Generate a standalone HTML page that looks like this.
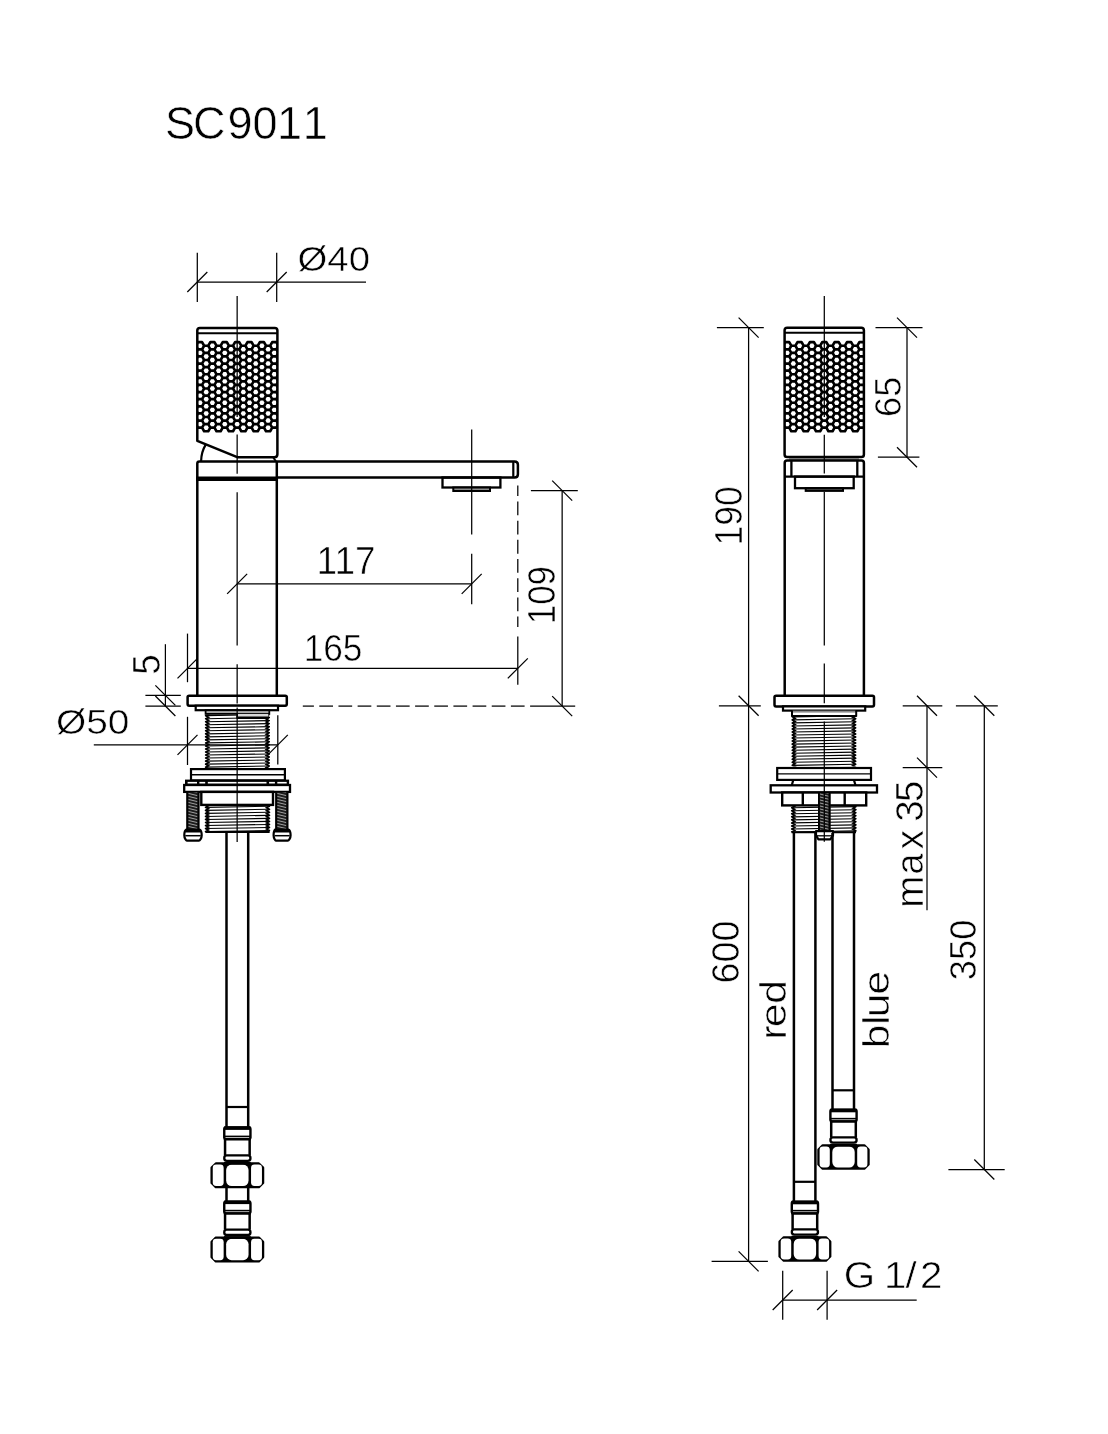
<!DOCTYPE html>
<html lang="en">
<head>
<meta charset="utf-8">
<title>SC9011</title>
<style>
html,body{margin:0;padding:0;background:#fff;}
body{width:1108px;height:1434px;overflow:hidden;font-family:'Liberation Sans', Arial, sans-serif;}
svg{display:block;will-change:transform;}
</style>
</head>
<body>
<svg width="1108" height="1434" viewBox="0 0 1108 1434">
<rect width="1108" height="1434" fill="#fff"/>
<g id="left-view">
<clipPath id="kc1"><rect x="197.3" y="330" width="80.1" height="120"/></clipPath>
<g clip-path="url(#kc1)">
<path d="M195.89,345.75 L197.95,342.19 L202.07,342.19 L204.13,345.75 L202.07,349.31 L197.95,349.31Z M195.89,352.88 L197.95,349.31 L202.07,349.31 L204.13,352.88 L202.07,356.44 L197.95,356.44Z M195.89,360 L197.95,356.44 L202.07,356.44 L204.13,360 L202.07,363.56 L197.95,363.56Z M195.89,367.12 L197.95,363.56 L202.07,363.56 L204.13,367.12 L202.07,370.69 L197.95,370.69Z M195.89,374.25 L197.95,370.69 L202.07,370.69 L204.13,374.25 L202.07,377.81 L197.95,377.81Z M195.89,381.38 L197.95,377.81 L202.07,377.81 L204.13,381.38 L202.07,384.94 L197.95,384.94Z M195.89,388.5 L197.95,384.94 L202.07,384.94 L204.13,388.5 L202.07,392.06 L197.95,392.06Z M195.89,395.62 L197.95,392.06 L202.07,392.06 L204.13,395.62 L202.07,399.19 L197.95,399.19Z M195.89,402.75 L197.95,399.19 L202.07,399.19 L204.13,402.75 L202.07,406.31 L197.95,406.31Z M195.89,409.88 L197.95,406.31 L202.07,406.31 L204.13,409.88 L202.07,413.44 L197.95,413.44Z M195.89,417 L197.95,413.44 L202.07,413.44 L204.13,417 L202.07,420.56 L197.95,420.56Z M195.89,424.12 L197.95,420.56 L202.07,420.56 L204.13,424.12 L202.07,427.69 L197.95,427.69Z M202.08,349.3 L204.14,345.74 L208.26,345.74 L210.32,349.3 L208.26,352.86 L204.14,352.86Z M202.08,356.43 L204.14,352.86 L208.26,352.86 L210.32,356.43 L208.26,359.99 L204.14,359.99Z M202.08,363.55 L204.14,359.99 L208.26,359.99 L210.32,363.55 L208.26,367.11 L204.14,367.11Z M202.08,370.68 L204.14,367.11 L208.26,367.11 L210.32,370.68 L208.26,374.24 L204.14,374.24Z M202.08,377.8 L204.14,374.24 L208.26,374.24 L210.32,377.8 L208.26,381.36 L204.14,381.36Z M202.08,384.93 L204.14,381.36 L208.26,381.36 L210.32,384.93 L208.26,388.49 L204.14,388.49Z M202.08,392.05 L204.14,388.49 L208.26,388.49 L210.32,392.05 L208.26,395.61 L204.14,395.61Z M202.08,399.18 L204.14,395.61 L208.26,395.61 L210.32,399.18 L208.26,402.74 L204.14,402.74Z M202.08,406.3 L204.14,402.74 L208.26,402.74 L210.32,406.3 L208.26,409.86 L204.14,409.86Z M202.08,413.43 L204.14,409.86 L208.26,409.86 L210.32,413.43 L208.26,416.99 L204.14,416.99Z M202.08,420.55 L204.14,416.99 L208.26,416.99 L210.32,420.55 L208.26,424.11 L204.14,424.11Z M202.08,427.68 L204.14,424.11 L208.26,424.11 L210.32,427.68 L208.26,431.24 L204.14,431.24Z M208.27,345.75 L210.33,342.19 L214.45,342.19 L216.51,345.75 L214.45,349.31 L210.33,349.31Z M208.27,352.88 L210.33,349.31 L214.45,349.31 L216.51,352.88 L214.45,356.44 L210.33,356.44Z M208.27,360 L210.33,356.44 L214.45,356.44 L216.51,360 L214.45,363.56 L210.33,363.56Z M208.27,367.12 L210.33,363.56 L214.45,363.56 L216.51,367.12 L214.45,370.69 L210.33,370.69Z M208.27,374.25 L210.33,370.69 L214.45,370.69 L216.51,374.25 L214.45,377.81 L210.33,377.81Z M208.27,381.38 L210.33,377.81 L214.45,377.81 L216.51,381.38 L214.45,384.94 L210.33,384.94Z M208.27,388.5 L210.33,384.94 L214.45,384.94 L216.51,388.5 L214.45,392.06 L210.33,392.06Z M208.27,395.62 L210.33,392.06 L214.45,392.06 L216.51,395.62 L214.45,399.19 L210.33,399.19Z M208.27,402.75 L210.33,399.19 L214.45,399.19 L216.51,402.75 L214.45,406.31 L210.33,406.31Z M208.27,409.88 L210.33,406.31 L214.45,406.31 L216.51,409.88 L214.45,413.44 L210.33,413.44Z M208.27,417 L210.33,413.44 L214.45,413.44 L216.51,417 L214.45,420.56 L210.33,420.56Z M208.27,424.12 L210.33,420.56 L214.45,420.56 L216.51,424.12 L214.45,427.69 L210.33,427.69Z M214.46,349.3 L216.52,345.74 L220.64,345.74 L222.7,349.3 L220.64,352.86 L216.52,352.86Z M214.46,356.43 L216.52,352.86 L220.64,352.86 L222.7,356.43 L220.64,359.99 L216.52,359.99Z M214.46,363.55 L216.52,359.99 L220.64,359.99 L222.7,363.55 L220.64,367.11 L216.52,367.11Z M214.46,370.68 L216.52,367.11 L220.64,367.11 L222.7,370.68 L220.64,374.24 L216.52,374.24Z M214.46,377.8 L216.52,374.24 L220.64,374.24 L222.7,377.8 L220.64,381.36 L216.52,381.36Z M214.46,384.93 L216.52,381.36 L220.64,381.36 L222.7,384.93 L220.64,388.49 L216.52,388.49Z M214.46,392.05 L216.52,388.49 L220.64,388.49 L222.7,392.05 L220.64,395.61 L216.52,395.61Z M214.46,399.18 L216.52,395.61 L220.64,395.61 L222.7,399.18 L220.64,402.74 L216.52,402.74Z M214.46,406.3 L216.52,402.74 L220.64,402.74 L222.7,406.3 L220.64,409.86 L216.52,409.86Z M214.46,413.43 L216.52,409.86 L220.64,409.86 L222.7,413.43 L220.64,416.99 L216.52,416.99Z M214.46,420.55 L216.52,416.99 L220.64,416.99 L222.7,420.55 L220.64,424.11 L216.52,424.11Z M214.46,427.68 L216.52,424.11 L220.64,424.11 L222.7,427.68 L220.64,431.24 L216.52,431.24Z M220.65,345.75 L222.71,342.19 L226.83,342.19 L228.89,345.75 L226.83,349.31 L222.71,349.31Z M220.65,352.88 L222.71,349.31 L226.83,349.31 L228.89,352.88 L226.83,356.44 L222.71,356.44Z M220.65,360 L222.71,356.44 L226.83,356.44 L228.89,360 L226.83,363.56 L222.71,363.56Z M220.65,367.12 L222.71,363.56 L226.83,363.56 L228.89,367.12 L226.83,370.69 L222.71,370.69Z M220.65,374.25 L222.71,370.69 L226.83,370.69 L228.89,374.25 L226.83,377.81 L222.71,377.81Z M220.65,381.38 L222.71,377.81 L226.83,377.81 L228.89,381.38 L226.83,384.94 L222.71,384.94Z M220.65,388.5 L222.71,384.94 L226.83,384.94 L228.89,388.5 L226.83,392.06 L222.71,392.06Z M220.65,395.62 L222.71,392.06 L226.83,392.06 L228.89,395.62 L226.83,399.19 L222.71,399.19Z M220.65,402.75 L222.71,399.19 L226.83,399.19 L228.89,402.75 L226.83,406.31 L222.71,406.31Z M220.65,409.88 L222.71,406.31 L226.83,406.31 L228.89,409.88 L226.83,413.44 L222.71,413.44Z M220.65,417 L222.71,413.44 L226.83,413.44 L228.89,417 L226.83,420.56 L222.71,420.56Z M220.65,424.12 L222.71,420.56 L226.83,420.56 L228.89,424.12 L226.83,427.69 L222.71,427.69Z M226.84,349.3 L228.9,345.74 L233.02,345.74 L235.08,349.3 L233.02,352.86 L228.9,352.86Z M226.84,356.43 L228.9,352.86 L233.02,352.86 L235.08,356.43 L233.02,359.99 L228.9,359.99Z M226.84,363.55 L228.9,359.99 L233.02,359.99 L235.08,363.55 L233.02,367.11 L228.9,367.11Z M226.84,370.68 L228.9,367.11 L233.02,367.11 L235.08,370.68 L233.02,374.24 L228.9,374.24Z M226.84,377.8 L228.9,374.24 L233.02,374.24 L235.08,377.8 L233.02,381.36 L228.9,381.36Z M226.84,384.93 L228.9,381.36 L233.02,381.36 L235.08,384.93 L233.02,388.49 L228.9,388.49Z M226.84,392.05 L228.9,388.49 L233.02,388.49 L235.08,392.05 L233.02,395.61 L228.9,395.61Z M226.84,399.18 L228.9,395.61 L233.02,395.61 L235.08,399.18 L233.02,402.74 L228.9,402.74Z M226.84,406.3 L228.9,402.74 L233.02,402.74 L235.08,406.3 L233.02,409.86 L228.9,409.86Z M226.84,413.43 L228.9,409.86 L233.02,409.86 L235.08,413.43 L233.02,416.99 L228.9,416.99Z M226.84,420.55 L228.9,416.99 L233.02,416.99 L235.08,420.55 L233.02,424.11 L228.9,424.11Z M226.84,427.68 L228.9,424.11 L233.02,424.11 L235.08,427.68 L233.02,431.24 L228.9,431.24Z M233.03,345.75 L235.09,342.19 L239.21,342.19 L241.27,345.75 L239.21,349.31 L235.09,349.31Z M233.03,352.88 L235.09,349.31 L239.21,349.31 L241.27,352.88 L239.21,356.44 L235.09,356.44Z M233.03,360 L235.09,356.44 L239.21,356.44 L241.27,360 L239.21,363.56 L235.09,363.56Z M233.03,367.12 L235.09,363.56 L239.21,363.56 L241.27,367.12 L239.21,370.69 L235.09,370.69Z M233.03,374.25 L235.09,370.69 L239.21,370.69 L241.27,374.25 L239.21,377.81 L235.09,377.81Z M233.03,381.38 L235.09,377.81 L239.21,377.81 L241.27,381.38 L239.21,384.94 L235.09,384.94Z M233.03,388.5 L235.09,384.94 L239.21,384.94 L241.27,388.5 L239.21,392.06 L235.09,392.06Z M233.03,395.62 L235.09,392.06 L239.21,392.06 L241.27,395.62 L239.21,399.19 L235.09,399.19Z M233.03,402.75 L235.09,399.19 L239.21,399.19 L241.27,402.75 L239.21,406.31 L235.09,406.31Z M233.03,409.88 L235.09,406.31 L239.21,406.31 L241.27,409.88 L239.21,413.44 L235.09,413.44Z M233.03,417 L235.09,413.44 L239.21,413.44 L241.27,417 L239.21,420.56 L235.09,420.56Z M233.03,424.12 L235.09,420.56 L239.21,420.56 L241.27,424.12 L239.21,427.69 L235.09,427.69Z M239.22,349.3 L241.28,345.74 L245.4,345.74 L247.46,349.3 L245.4,352.86 L241.28,352.86Z M239.22,356.43 L241.28,352.86 L245.4,352.86 L247.46,356.43 L245.4,359.99 L241.28,359.99Z M239.22,363.55 L241.28,359.99 L245.4,359.99 L247.46,363.55 L245.4,367.11 L241.28,367.11Z M239.22,370.68 L241.28,367.11 L245.4,367.11 L247.46,370.68 L245.4,374.24 L241.28,374.24Z M239.22,377.8 L241.28,374.24 L245.4,374.24 L247.46,377.8 L245.4,381.36 L241.28,381.36Z M239.22,384.93 L241.28,381.36 L245.4,381.36 L247.46,384.93 L245.4,388.49 L241.28,388.49Z M239.22,392.05 L241.28,388.49 L245.4,388.49 L247.46,392.05 L245.4,395.61 L241.28,395.61Z M239.22,399.18 L241.28,395.61 L245.4,395.61 L247.46,399.18 L245.4,402.74 L241.28,402.74Z M239.22,406.3 L241.28,402.74 L245.4,402.74 L247.46,406.3 L245.4,409.86 L241.28,409.86Z M239.22,413.43 L241.28,409.86 L245.4,409.86 L247.46,413.43 L245.4,416.99 L241.28,416.99Z M239.22,420.55 L241.28,416.99 L245.4,416.99 L247.46,420.55 L245.4,424.11 L241.28,424.11Z M239.22,427.68 L241.28,424.11 L245.4,424.11 L247.46,427.68 L245.4,431.24 L241.28,431.24Z M245.41,345.75 L247.47,342.19 L251.59,342.19 L253.65,345.75 L251.59,349.31 L247.47,349.31Z M245.41,352.88 L247.47,349.31 L251.59,349.31 L253.65,352.88 L251.59,356.44 L247.47,356.44Z M245.41,360 L247.47,356.44 L251.59,356.44 L253.65,360 L251.59,363.56 L247.47,363.56Z M245.41,367.12 L247.47,363.56 L251.59,363.56 L253.65,367.12 L251.59,370.69 L247.47,370.69Z M245.41,374.25 L247.47,370.69 L251.59,370.69 L253.65,374.25 L251.59,377.81 L247.47,377.81Z M245.41,381.38 L247.47,377.81 L251.59,377.81 L253.65,381.38 L251.59,384.94 L247.47,384.94Z M245.41,388.5 L247.47,384.94 L251.59,384.94 L253.65,388.5 L251.59,392.06 L247.47,392.06Z M245.41,395.62 L247.47,392.06 L251.59,392.06 L253.65,395.62 L251.59,399.19 L247.47,399.19Z M245.41,402.75 L247.47,399.19 L251.59,399.19 L253.65,402.75 L251.59,406.31 L247.47,406.31Z M245.41,409.88 L247.47,406.31 L251.59,406.31 L253.65,409.88 L251.59,413.44 L247.47,413.44Z M245.41,417 L247.47,413.44 L251.59,413.44 L253.65,417 L251.59,420.56 L247.47,420.56Z M245.41,424.12 L247.47,420.56 L251.59,420.56 L253.65,424.12 L251.59,427.69 L247.47,427.69Z M251.6,349.3 L253.66,345.74 L257.78,345.74 L259.84,349.3 L257.78,352.86 L253.66,352.86Z M251.6,356.43 L253.66,352.86 L257.78,352.86 L259.84,356.43 L257.78,359.99 L253.66,359.99Z M251.6,363.55 L253.66,359.99 L257.78,359.99 L259.84,363.55 L257.78,367.11 L253.66,367.11Z M251.6,370.68 L253.66,367.11 L257.78,367.11 L259.84,370.68 L257.78,374.24 L253.66,374.24Z M251.6,377.8 L253.66,374.24 L257.78,374.24 L259.84,377.8 L257.78,381.36 L253.66,381.36Z M251.6,384.93 L253.66,381.36 L257.78,381.36 L259.84,384.93 L257.78,388.49 L253.66,388.49Z M251.6,392.05 L253.66,388.49 L257.78,388.49 L259.84,392.05 L257.78,395.61 L253.66,395.61Z M251.6,399.18 L253.66,395.61 L257.78,395.61 L259.84,399.18 L257.78,402.74 L253.66,402.74Z M251.6,406.3 L253.66,402.74 L257.78,402.74 L259.84,406.3 L257.78,409.86 L253.66,409.86Z M251.6,413.43 L253.66,409.86 L257.78,409.86 L259.84,413.43 L257.78,416.99 L253.66,416.99Z M251.6,420.55 L253.66,416.99 L257.78,416.99 L259.84,420.55 L257.78,424.11 L253.66,424.11Z M251.6,427.68 L253.66,424.11 L257.78,424.11 L259.84,427.68 L257.78,431.24 L253.66,431.24Z M257.79,345.75 L259.85,342.19 L263.97,342.19 L266.03,345.75 L263.97,349.31 L259.85,349.31Z M257.79,352.88 L259.85,349.31 L263.97,349.31 L266.03,352.88 L263.97,356.44 L259.85,356.44Z M257.79,360 L259.85,356.44 L263.97,356.44 L266.03,360 L263.97,363.56 L259.85,363.56Z M257.79,367.12 L259.85,363.56 L263.97,363.56 L266.03,367.12 L263.97,370.69 L259.85,370.69Z M257.79,374.25 L259.85,370.69 L263.97,370.69 L266.03,374.25 L263.97,377.81 L259.85,377.81Z M257.79,381.38 L259.85,377.81 L263.97,377.81 L266.03,381.38 L263.97,384.94 L259.85,384.94Z M257.79,388.5 L259.85,384.94 L263.97,384.94 L266.03,388.5 L263.97,392.06 L259.85,392.06Z M257.79,395.62 L259.85,392.06 L263.97,392.06 L266.03,395.62 L263.97,399.19 L259.85,399.19Z M257.79,402.75 L259.85,399.19 L263.97,399.19 L266.03,402.75 L263.97,406.31 L259.85,406.31Z M257.79,409.88 L259.85,406.31 L263.97,406.31 L266.03,409.88 L263.97,413.44 L259.85,413.44Z M257.79,417 L259.85,413.44 L263.97,413.44 L266.03,417 L263.97,420.56 L259.85,420.56Z M257.79,424.12 L259.85,420.56 L263.97,420.56 L266.03,424.12 L263.97,427.69 L259.85,427.69Z M263.98,349.3 L266.04,345.74 L270.16,345.74 L272.22,349.3 L270.16,352.86 L266.04,352.86Z M263.98,356.43 L266.04,352.86 L270.16,352.86 L272.22,356.43 L270.16,359.99 L266.04,359.99Z M263.98,363.55 L266.04,359.99 L270.16,359.99 L272.22,363.55 L270.16,367.11 L266.04,367.11Z M263.98,370.68 L266.04,367.11 L270.16,367.11 L272.22,370.68 L270.16,374.24 L266.04,374.24Z M263.98,377.8 L266.04,374.24 L270.16,374.24 L272.22,377.8 L270.16,381.36 L266.04,381.36Z M263.98,384.93 L266.04,381.36 L270.16,381.36 L272.22,384.93 L270.16,388.49 L266.04,388.49Z M263.98,392.05 L266.04,388.49 L270.16,388.49 L272.22,392.05 L270.16,395.61 L266.04,395.61Z M263.98,399.18 L266.04,395.61 L270.16,395.61 L272.22,399.18 L270.16,402.74 L266.04,402.74Z M263.98,406.3 L266.04,402.74 L270.16,402.74 L272.22,406.3 L270.16,409.86 L266.04,409.86Z M263.98,413.43 L266.04,409.86 L270.16,409.86 L272.22,413.43 L270.16,416.99 L266.04,416.99Z M263.98,420.55 L266.04,416.99 L270.16,416.99 L272.22,420.55 L270.16,424.11 L266.04,424.11Z M263.98,427.68 L266.04,424.11 L270.16,424.11 L272.22,427.68 L270.16,431.24 L266.04,431.24Z M270.17,345.75 L272.23,342.19 L276.35,342.19 L278.41,345.75 L276.35,349.31 L272.23,349.31Z M270.17,352.88 L272.23,349.31 L276.35,349.31 L278.41,352.88 L276.35,356.44 L272.23,356.44Z M270.17,360 L272.23,356.44 L276.35,356.44 L278.41,360 L276.35,363.56 L272.23,363.56Z M270.17,367.12 L272.23,363.56 L276.35,363.56 L278.41,367.12 L276.35,370.69 L272.23,370.69Z M270.17,374.25 L272.23,370.69 L276.35,370.69 L278.41,374.25 L276.35,377.81 L272.23,377.81Z M270.17,381.38 L272.23,377.81 L276.35,377.81 L278.41,381.38 L276.35,384.94 L272.23,384.94Z M270.17,388.5 L272.23,384.94 L276.35,384.94 L278.41,388.5 L276.35,392.06 L272.23,392.06Z M270.17,395.62 L272.23,392.06 L276.35,392.06 L278.41,395.62 L276.35,399.19 L272.23,399.19Z M270.17,402.75 L272.23,399.19 L276.35,399.19 L278.41,402.75 L276.35,406.31 L272.23,406.31Z M270.17,409.88 L272.23,406.31 L276.35,406.31 L278.41,409.88 L276.35,413.44 L272.23,413.44Z M270.17,417 L272.23,413.44 L276.35,413.44 L278.41,417 L276.35,420.56 L272.23,420.56Z M270.17,424.12 L272.23,420.56 L276.35,420.56 L278.41,424.12 L276.35,427.69 L272.23,427.69Z" fill="#fff" stroke="#000" stroke-width="2.65" stroke-linejoin="round"/>
</g>
<path d="M197.3,330.6 Q197.3,328 199.9,328 L274.8,328 Q277.4,328 277.4,330.6 L277.4,454.2 Q277.4,457.2 274.4,457.2 L237.2,457.2 L197.3,440.8 Z" fill="none" stroke="#000" stroke-width="2.5" stroke-linejoin="round"/>
<line x1="197.3" y1="333.2" x2="277.4" y2="333.2" stroke="#000" stroke-width="2.1"/>
<path d="M205.7,444.6 Q201.3,452 201.1,461" fill="none" stroke="#000" stroke-width="2.2"/>
<line x1="273.1" y1="457.3" x2="275.9" y2="461.3" stroke="#000" stroke-width="2"/>
<path d="M197.3,695.6 L197.3,463.6 Q197.3,461.5 199.4,461.5 L514.6,461.5 Q517.9,461.5 517.9,464.8 L517.9,474.2 Q517.9,477.5 514.6,477.5 L277,477.5" fill="none" stroke="#000" stroke-width="2.5"/>
<line x1="276.8" y1="461.5" x2="276.8" y2="695.6" stroke="#000" stroke-width="2.5"/>
<line x1="513.3" y1="461.5" x2="513.3" y2="477.5" stroke="#000" stroke-width="2.2"/>
<line x1="196.1" y1="478.75" x2="278" y2="478.75" stroke="#000" stroke-width="4.3"/>
<rect x="442.5" y="477.5" width="57.9" height="10" fill="none" stroke="#000" stroke-width="2.3"/>
<rect x="453.3" y="487.5" width="36.7" height="3.5" fill="#8c8c8c" stroke="#000" stroke-width="2"/>
<rect x="187.6" y="695.7" width="99.2" height="10" rx="1.6" fill="#fff" stroke="#000" stroke-width="2.5"/>
<rect x="195.7" y="705.7" width="82.3" height="4.5" fill="#fff" stroke="#000" stroke-width="2.2"/>
<rect x="205.6" y="710.2" width="63.7" height="3.7" fill="#a8a8a8" stroke="#000" stroke-width="1.8"/>
<clipPath id="tc1"><rect x="204.8" y="714.6" width="65.2" height="53.6"/></clipPath>
<g clip-path="url(#tc1)">
<path d="M206.3,712.62 L268.5,711.52 M206.3,715.65 L268.5,714.55 M206.3,718.68 L268.5,717.58 M206.3,721.71 L268.5,720.61 M206.3,724.74 L268.5,723.64 M206.3,727.77 L268.5,726.67 M206.3,730.8 L268.5,729.7 M206.3,733.83 L268.5,732.73 M206.3,736.86 L268.5,735.76 M206.3,739.89 L268.5,738.79 M206.3,742.92 L268.5,741.82 M206.3,745.95 L268.5,744.85 M206.3,748.98 L268.5,747.88 M206.3,752.01 L268.5,750.91 M206.3,755.04 L268.5,753.94 M206.3,758.07 L268.5,756.97 M206.3,761.1 L268.5,760 M206.3,764.13 L268.5,763.03 M206.3,767.16 L268.5,766.06 M206.3,770.19 L268.5,769.09" fill="none" stroke="#000" stroke-width="1.1"/>
<path d="M205.7,712.62 L208.5,714.13 L205.7,715.65 L208.5,717.16 L205.7,718.68 L208.5,720.19 L205.7,721.71 L208.5,723.22 L205.7,724.74 L208.5,726.25 L205.7,727.77 L208.5,729.28 L205.7,730.8 L208.5,732.31 L205.7,733.83 L208.5,735.34 L205.7,736.86 L208.5,738.37 L205.7,739.89 L208.5,741.4 L205.7,742.92 L208.5,744.43 L205.7,745.95 L208.5,747.46 L205.7,748.98 L208.5,750.49 L205.7,752.01 L208.5,753.52 L205.7,755.04 L208.5,756.55 L205.7,758.07 L208.5,759.58 L205.7,761.1 L208.5,762.61 L205.7,764.13 L208.5,765.64 L205.7,767.16 L208.5,768.67 L205.7,770.19 L208.5,771.7" fill="none" stroke="#000" stroke-width="1.7"/>
<path d="M269.1,711.52 L266.3,713.04 L269.1,714.55 L266.3,716.07 L269.1,717.58 L266.3,719.1 L269.1,720.61 L266.3,722.12 L269.1,723.64 L266.3,725.15 L269.1,726.67 L266.3,728.18 L269.1,729.7 L266.3,731.21 L269.1,732.73 L266.3,734.24 L269.1,735.76 L266.3,737.27 L269.1,738.79 L266.3,740.3 L269.1,741.82 L266.3,743.33 L269.1,744.85 L266.3,746.36 L269.1,747.88 L266.3,749.39 L269.1,750.91 L266.3,752.42 L269.1,753.94 L266.3,755.45 L269.1,756.97 L266.3,758.48 L269.1,760 L266.3,761.51 L269.1,763.03 L266.3,764.54 L269.1,766.06 L266.3,767.57 L269.1,769.09 L266.3,770.6" fill="none" stroke="#000" stroke-width="1.7"/>
</g>
<rect x="237.2" y="713.9" width="31" height="3.1" fill="#d8d8d8" stroke="none" stroke-width="0"/>
<line x1="236.6" y1="717.7" x2="268.6" y2="717.7" stroke="#000" stroke-width="2.4"/>
<line x1="237.2" y1="713.9" x2="237.2" y2="718" stroke="#000" stroke-width="1.6"/>
<rect x="191" y="769.1" width="93.9" height="11.3" fill="#fff" stroke="#000" stroke-width="2.2"/>
<line x1="191" y1="774.8" x2="284.9" y2="774.8" stroke="#000" stroke-width="1.4"/>
<rect x="185.8" y="780.4" width="102.5" height="4.2" fill="#000" stroke="#000" stroke-width="1.6"/>
<rect x="187.6" y="781.9" width="9.4" height="1.7" fill="#fff" stroke="none" stroke-width="0"/>
<rect x="199.4" y="781.9" width="5.8" height="1.7" fill="#fff" stroke="none" stroke-width="0"/>
<rect x="207.8" y="781.9" width="58.7" height="1.7" fill="#fff" stroke="none" stroke-width="0"/>
<rect x="269.1" y="781.9" width="5.8" height="1.7" fill="#fff" stroke="none" stroke-width="0"/>
<rect x="277.3" y="781.9" width="9.4" height="1.7" fill="#fff" stroke="none" stroke-width="0"/>
<rect x="184.2" y="785" width="105.8" height="6.9" fill="#fff" stroke="#000" stroke-width="2.3"/>
<rect x="201.3" y="791.9" width="71.7" height="13" fill="#fff" stroke="#000" stroke-width="2.4"/>
<clipPath id="tc2"><rect x="204.7" y="805.6" width="65.6" height="26.6"/></clipPath>
<g clip-path="url(#tc2)">
<path d="M206.2,804.32 L268.8,803.22 M206.2,807.35 L268.8,806.25 M206.2,810.38 L268.8,809.28 M206.2,813.41 L268.8,812.31 M206.2,816.44 L268.8,815.34 M206.2,819.47 L268.8,818.37 M206.2,822.5 L268.8,821.4 M206.2,825.53 L268.8,824.43 M206.2,828.56 L268.8,827.46 M206.2,831.59 L268.8,830.49 M206.2,834.62 L268.8,833.52" fill="none" stroke="#000" stroke-width="1.1"/>
<path d="M205.6,804.32 L208.4,805.84 L205.6,807.35 L208.4,808.87 L205.6,810.38 L208.4,811.89 L205.6,813.41 L208.4,814.92 L205.6,816.44 L208.4,817.95 L205.6,819.47 L208.4,820.98 L205.6,822.5 L208.4,824.01 L205.6,825.53 L208.4,827.04 L205.6,828.56 L208.4,830.07 L205.6,831.59 L208.4,833.1 L205.6,834.62 L208.4,836.13" fill="none" stroke="#000" stroke-width="1.7"/>
<path d="M269.4,803.22 L266.6,804.74 L269.4,806.25 L266.6,807.77 L269.4,809.28 L266.6,810.8 L269.4,812.31 L266.6,813.83 L269.4,815.34 L266.6,816.86 L269.4,818.37 L266.6,819.88 L269.4,821.4 L266.6,822.91 L269.4,824.43 L266.6,825.94 L269.4,827.46 L266.6,828.97 L269.4,830.49 L266.6,832 L269.4,833.52 L266.6,835.03" fill="none" stroke="#000" stroke-width="1.7"/>
</g>
<line x1="205.4" y1="832" x2="269.6" y2="832" stroke="#000" stroke-width="2"/>
<clipPath id="bc1"><rect x="186.4" y="792.4" width="13" height="37.1"/></clipPath>
<rect x="186.4" y="792.4" width="13" height="37.1" fill="#1c1c1c"/>
<g clip-path="url(#bc1)">
<path d="M188.4,790.4 L197.4,792.6 M188.4,793.4 L197.4,795.6 M188.4,796.4 L197.4,798.6 M188.4,799.4 L197.4,801.6 M188.4,802.4 L197.4,804.6 M188.4,805.4 L197.4,807.6 M188.4,808.4 L197.4,810.6 M188.4,811.4 L197.4,813.6 M188.4,814.4 L197.4,816.6 M188.4,817.4 L197.4,819.6 M188.4,820.4 L197.4,822.6 M188.4,823.4 L197.4,825.6 M188.4,826.4 L197.4,828.6 M188.4,829.4 L197.4,831.6 M188.4,832.4 L197.4,834.6" fill="none" stroke="#a0a0a0" stroke-width="1"/>
</g>
<line x1="187.3" y1="792.4" x2="187.3" y2="829.5" stroke="#000" stroke-width="1.8"/>
<line x1="198.5" y1="792.4" x2="198.5" y2="829.5" stroke="#000" stroke-width="1.8"/>
<path d="M186.4,829.5 L199.4,829.5 C200.7,830 201.7,832.5 201.7,835.3 C201.7,838.6 199.7,840.6 198.9,840.6 L186.9,840.6 C186.3,840.6 184.3,838.6 184.3,835.3 C184.3,832.5 185.3,830 186.4,829.5Z" fill="#fff" stroke="#000" stroke-width="2.2" stroke-linejoin="round"/>
<line x1="185.2" y1="831" x2="200.6" y2="831" stroke="#000" stroke-width="3"/>
<line x1="185.3" y1="835.7" x2="200.7" y2="835.7" stroke="#000" stroke-width="1.5"/>
<clipPath id="bc2"><rect x="275.3" y="792.4" width="13" height="37.1"/></clipPath>
<rect x="275.3" y="792.4" width="13" height="37.1" fill="#1c1c1c"/>
<g clip-path="url(#bc2)">
<path d="M277.3,790.4 L286.3,792.6 M277.3,793.4 L286.3,795.6 M277.3,796.4 L286.3,798.6 M277.3,799.4 L286.3,801.6 M277.3,802.4 L286.3,804.6 M277.3,805.4 L286.3,807.6 M277.3,808.4 L286.3,810.6 M277.3,811.4 L286.3,813.6 M277.3,814.4 L286.3,816.6 M277.3,817.4 L286.3,819.6 M277.3,820.4 L286.3,822.6 M277.3,823.4 L286.3,825.6 M277.3,826.4 L286.3,828.6 M277.3,829.4 L286.3,831.6 M277.3,832.4 L286.3,834.6" fill="none" stroke="#a0a0a0" stroke-width="1"/>
</g>
<line x1="276.2" y1="792.4" x2="276.2" y2="829.5" stroke="#000" stroke-width="1.8"/>
<line x1="287.4" y1="792.4" x2="287.4" y2="829.5" stroke="#000" stroke-width="1.8"/>
<path d="M275.3,829.5 L288.3,829.5 C289.6,830 290.6,832.5 290.6,835.3 C290.6,838.6 288.6,840.6 287.8,840.6 L275.8,840.6 C275.6,840.6 273.6,838.6 273.6,835.3 C273.6,832.5 274.6,830 275.3,829.5Z" fill="#fff" stroke="#000" stroke-width="2.2" stroke-linejoin="round"/>
<line x1="274.1" y1="831" x2="289.5" y2="831" stroke="#000" stroke-width="3"/>
<line x1="274.6" y1="835.7" x2="289.6" y2="835.7" stroke="#000" stroke-width="1.5"/>
<line x1="226.5" y1="832.5" x2="226.5" y2="1127.5" stroke="#000" stroke-width="2.5"/>
<line x1="248.2" y1="832.5" x2="248.2" y2="1127.5" stroke="#000" stroke-width="2.5"/>
<line x1="226.5" y1="1107" x2="248.2" y2="1107" stroke="#000" stroke-width="2.2"/>
<path d="M225.45,1127.4 L249.25,1127.4 Q250.45,1127.4 250.45,1129.2 L250.45,1137.8 L249.65,1139.4 L225.05,1139.4 L224.25,1137.8 L224.25,1129.2 Q224.25,1127.4 225.45,1127.4Z" fill="#fff" stroke="#000" stroke-width="2.4" stroke-linejoin="round"/>
<line x1="224.25" y1="1128.1" x2="250.45" y2="1128.1" stroke="#000" stroke-width="3.6"/>
<line x1="224.25" y1="1136.4" x2="250.45" y2="1136.4" stroke="#000" stroke-width="1.6"/>
<line x1="224.25" y1="1138.8" x2="250.45" y2="1138.8" stroke="#000" stroke-width="1.8"/>
<line x1="225.05" y1="1138.8" x2="225.05" y2="1155.4" stroke="#000" stroke-width="2.5"/>
<line x1="249.65" y1="1138.8" x2="249.65" y2="1155.4" stroke="#000" stroke-width="2.5"/>
<rect x="224.25" y="1155.4" width="26.2" height="5.4" rx="2.6" fill="#fff" stroke="#000" stroke-width="2.3"/>
<path d="M215.85,1163.5 L258.85,1163.5 L263.05,1167.7 L263.05,1182.9 L258.85,1187.1 L215.85,1187.1 L211.65,1182.9 L211.65,1167.7Z" fill="#000" stroke="#000" stroke-width="2.4" stroke-linejoin="round"/>
<rect x="212.75" y="1164.6" width="10.9" height="21.4" rx="3.4" fill="#fff" stroke="none" stroke-width="0"/>
<rect x="226.15" y="1164.6" width="22.4" height="21.4" rx="5.5" fill="#fff" stroke="none" stroke-width="0"/>
<rect x="251.05" y="1164.6" width="10.9" height="21.4" rx="3.4" fill="#fff" stroke="none" stroke-width="0"/>
<line x1="223.9" y1="1163.3" x2="250.8" y2="1163.3" stroke="#000" stroke-width="2.8"/>
<line x1="226.5" y1="1187.1" x2="226.5" y2="1201.5" stroke="#000" stroke-width="2.5"/>
<line x1="248.2" y1="1187.1" x2="248.2" y2="1201.5" stroke="#000" stroke-width="2.5"/>
<path d="M225.45,1201.6 L249.25,1201.6 Q250.45,1201.6 250.45,1203.4 L250.45,1212 L249.65,1213.6 L225.05,1213.6 L224.25,1212 L224.25,1203.4 Q224.25,1201.6 225.45,1201.6Z" fill="#fff" stroke="#000" stroke-width="2.4" stroke-linejoin="round"/>
<line x1="224.25" y1="1202.3" x2="250.45" y2="1202.3" stroke="#000" stroke-width="3.6"/>
<line x1="224.25" y1="1210.6" x2="250.45" y2="1210.6" stroke="#000" stroke-width="1.6"/>
<line x1="224.25" y1="1213" x2="250.45" y2="1213" stroke="#000" stroke-width="1.8"/>
<line x1="225.05" y1="1213" x2="225.05" y2="1229.6" stroke="#000" stroke-width="2.5"/>
<line x1="249.65" y1="1213" x2="249.65" y2="1229.6" stroke="#000" stroke-width="2.5"/>
<rect x="224.25" y="1229.6" width="26.2" height="5.4" rx="2.6" fill="#fff" stroke="#000" stroke-width="2.3"/>
<path d="M215.85,1237.7 L258.85,1237.7 L263.05,1241.9 L263.05,1257.1 L258.85,1261.3 L215.85,1261.3 L211.65,1257.1 L211.65,1241.9Z" fill="#000" stroke="#000" stroke-width="2.4" stroke-linejoin="round"/>
<rect x="212.75" y="1238.8" width="10.9" height="21.4" rx="3.4" fill="#fff" stroke="none" stroke-width="0"/>
<rect x="226.15" y="1238.8" width="22.4" height="21.4" rx="5.5" fill="#fff" stroke="none" stroke-width="0"/>
<rect x="251.05" y="1238.8" width="10.9" height="21.4" rx="3.4" fill="#fff" stroke="none" stroke-width="0"/>
<line x1="223.9" y1="1237.5" x2="250.8" y2="1237.5" stroke="#000" stroke-width="2.8"/>
<line x1="237.15" y1="296" x2="237.15" y2="416.9" stroke="#000" stroke-width="1.25"/>
<line x1="237.15" y1="434.5" x2="237.15" y2="473.7" stroke="#000" stroke-width="1.25"/>
<line x1="237.15" y1="492.2" x2="237.15" y2="645.5" stroke="#000" stroke-width="1.25"/>
<line x1="237.15" y1="664.3" x2="237.15" y2="703.5" stroke="#000" stroke-width="1.25"/>
<line x1="237.15" y1="707.5" x2="237.15" y2="842" stroke="#000" stroke-width="1.25"/>
<line x1="197.3" y1="252.8" x2="197.3" y2="301.9" stroke="#000" stroke-width="1.25"/>
<line x1="276.7" y1="252.8" x2="276.7" y2="301.9" stroke="#000" stroke-width="1.25"/>
<line x1="197.3" y1="282" x2="366" y2="282" stroke="#000" stroke-width="1.25"/>
<line x1="187.3" y1="292" x2="207.3" y2="272" stroke="#000" stroke-width="1.25"/>
<line x1="266.7" y1="292" x2="286.7" y2="272" stroke="#000" stroke-width="1.25"/>
<line x1="471.7" y1="429.5" x2="471.7" y2="534.4" stroke="#000" stroke-width="1.25"/>
<line x1="471.7" y1="553.8" x2="471.7" y2="604.2" stroke="#000" stroke-width="1.25"/>
<line x1="237.15" y1="583.9" x2="471.7" y2="583.9" stroke="#000" stroke-width="1.25"/>
<line x1="227.15" y1="593.9" x2="247.15" y2="573.9" stroke="#000" stroke-width="1.25"/>
<line x1="461.7" y1="593.9" x2="481.7" y2="573.9" stroke="#000" stroke-width="1.25"/>
<line x1="187.5" y1="633.6" x2="187.5" y2="682.2" stroke="#000" stroke-width="1.25"/>
<line x1="187.5" y1="668.4" x2="517.8" y2="668.4" stroke="#000" stroke-width="1.25"/>
<line x1="177.5" y1="678.4" x2="197.5" y2="658.4" stroke="#000" stroke-width="1.25"/>
<line x1="507.8" y1="678.4" x2="527.8" y2="658.4" stroke="#000" stroke-width="1.25"/>
<line x1="517.8" y1="485.4" x2="517.8" y2="496" stroke="#000" stroke-width="1.25"/>
<line x1="517.8" y1="501.5" x2="517.8" y2="515.3" stroke="#000" stroke-width="1.25"/>
<line x1="517.8" y1="520.68" x2="517.8" y2="534.48" stroke="#000" stroke-width="1.25"/>
<line x1="517.8" y1="539.86" x2="517.8" y2="553.66" stroke="#000" stroke-width="1.25"/>
<line x1="517.8" y1="559.04" x2="517.8" y2="572.84" stroke="#000" stroke-width="1.25"/>
<line x1="517.8" y1="578.22" x2="517.8" y2="592.02" stroke="#000" stroke-width="1.25"/>
<line x1="517.8" y1="597.4" x2="517.8" y2="611.2" stroke="#000" stroke-width="1.25"/>
<line x1="517.8" y1="616.6" x2="517.8" y2="627" stroke="#000" stroke-width="1.25"/>
<line x1="517.8" y1="636.5" x2="517.8" y2="684.8" stroke="#000" stroke-width="1.25"/>
<line x1="302.8" y1="706.1" x2="313.9" y2="706.1" stroke="#000" stroke-width="1.25"/>
<line x1="319.3" y1="706.1" x2="333" y2="706.1" stroke="#000" stroke-width="1.25"/>
<line x1="338.46" y1="706.1" x2="352.16" y2="706.1" stroke="#000" stroke-width="1.25"/>
<line x1="357.62" y1="706.1" x2="371.32" y2="706.1" stroke="#000" stroke-width="1.25"/>
<line x1="376.78" y1="706.1" x2="390.48" y2="706.1" stroke="#000" stroke-width="1.25"/>
<line x1="395.94" y1="706.1" x2="409.64" y2="706.1" stroke="#000" stroke-width="1.25"/>
<line x1="415.1" y1="706.1" x2="428.8" y2="706.1" stroke="#000" stroke-width="1.25"/>
<line x1="434.26" y1="706.1" x2="447.96" y2="706.1" stroke="#000" stroke-width="1.25"/>
<line x1="453.42" y1="706.1" x2="467.12" y2="706.1" stroke="#000" stroke-width="1.25"/>
<line x1="472.58" y1="706.1" x2="486.28" y2="706.1" stroke="#000" stroke-width="1.25"/>
<line x1="491.74" y1="706.1" x2="505.44" y2="706.1" stroke="#000" stroke-width="1.25"/>
<line x1="510.9" y1="706.1" x2="524.6" y2="706.1" stroke="#000" stroke-width="1.25"/>
<line x1="530.1" y1="706.1" x2="575.2" y2="706.1" stroke="#000" stroke-width="1.25"/>
<line x1="530.9" y1="490.5" x2="577.8" y2="490.5" stroke="#000" stroke-width="1.25"/>
<line x1="562.15" y1="490.5" x2="562.15" y2="706.1" stroke="#000" stroke-width="1.25"/>
<line x1="552.2" y1="480.6" x2="572.2" y2="500.6" stroke="#000" stroke-width="1.25"/>
<line x1="552.2" y1="696.1" x2="572.2" y2="716.1" stroke="#000" stroke-width="1.25"/>
<line x1="165.4" y1="644.2" x2="165.4" y2="706.3" stroke="#000" stroke-width="1.25"/>
<line x1="145.4" y1="695.4" x2="180.8" y2="695.4" stroke="#000" stroke-width="1.25"/>
<line x1="145.4" y1="706" x2="180.8" y2="706" stroke="#000" stroke-width="1.25"/>
<line x1="155.4" y1="685.4" x2="175.4" y2="705.4" stroke="#000" stroke-width="1.25"/>
<line x1="155.4" y1="696" x2="175.4" y2="716" stroke="#000" stroke-width="1.25"/>
<line x1="187.5" y1="716.8" x2="187.5" y2="765" stroke="#000" stroke-width="1.25"/>
<line x1="277.8" y1="715.3" x2="277.8" y2="764.6" stroke="#000" stroke-width="1.25"/>
<line x1="93.8" y1="744.9" x2="277.8" y2="744.9" stroke="#000" stroke-width="1.25"/>
<line x1="177.5" y1="754.9" x2="197.5" y2="734.9" stroke="#000" stroke-width="1.25"/>
<line x1="267.8" y1="754.9" x2="287.8" y2="734.9" stroke="#000" stroke-width="1.25"/>
</g>
<g id="right-view">
<clipPath id="kc2"><rect x="784.6" y="330" width="79.3" height="120"/></clipPath>
<g clip-path="url(#kc2)">
<path d="M783.04,345.75 L785.1,342.19 L789.22,342.19 L791.28,345.75 L789.22,349.31 L785.1,349.31Z M783.04,352.88 L785.1,349.31 L789.22,349.31 L791.28,352.88 L789.22,356.44 L785.1,356.44Z M783.04,360 L785.1,356.44 L789.22,356.44 L791.28,360 L789.22,363.56 L785.1,363.56Z M783.04,367.12 L785.1,363.56 L789.22,363.56 L791.28,367.12 L789.22,370.69 L785.1,370.69Z M783.04,374.25 L785.1,370.69 L789.22,370.69 L791.28,374.25 L789.22,377.81 L785.1,377.81Z M783.04,381.38 L785.1,377.81 L789.22,377.81 L791.28,381.38 L789.22,384.94 L785.1,384.94Z M783.04,388.5 L785.1,384.94 L789.22,384.94 L791.28,388.5 L789.22,392.06 L785.1,392.06Z M783.04,395.62 L785.1,392.06 L789.22,392.06 L791.28,395.62 L789.22,399.19 L785.1,399.19Z M783.04,402.75 L785.1,399.19 L789.22,399.19 L791.28,402.75 L789.22,406.31 L785.1,406.31Z M783.04,409.88 L785.1,406.31 L789.22,406.31 L791.28,409.88 L789.22,413.44 L785.1,413.44Z M783.04,417 L785.1,413.44 L789.22,413.44 L791.28,417 L789.22,420.56 L785.1,420.56Z M783.04,424.12 L785.1,420.56 L789.22,420.56 L791.28,424.12 L789.22,427.69 L785.1,427.69Z M789.23,349.3 L791.29,345.74 L795.41,345.74 L797.47,349.3 L795.41,352.86 L791.29,352.86Z M789.23,356.43 L791.29,352.86 L795.41,352.86 L797.47,356.43 L795.41,359.99 L791.29,359.99Z M789.23,363.55 L791.29,359.99 L795.41,359.99 L797.47,363.55 L795.41,367.11 L791.29,367.11Z M789.23,370.68 L791.29,367.11 L795.41,367.11 L797.47,370.68 L795.41,374.24 L791.29,374.24Z M789.23,377.8 L791.29,374.24 L795.41,374.24 L797.47,377.8 L795.41,381.36 L791.29,381.36Z M789.23,384.93 L791.29,381.36 L795.41,381.36 L797.47,384.93 L795.41,388.49 L791.29,388.49Z M789.23,392.05 L791.29,388.49 L795.41,388.49 L797.47,392.05 L795.41,395.61 L791.29,395.61Z M789.23,399.18 L791.29,395.61 L795.41,395.61 L797.47,399.18 L795.41,402.74 L791.29,402.74Z M789.23,406.3 L791.29,402.74 L795.41,402.74 L797.47,406.3 L795.41,409.86 L791.29,409.86Z M789.23,413.43 L791.29,409.86 L795.41,409.86 L797.47,413.43 L795.41,416.99 L791.29,416.99Z M789.23,420.55 L791.29,416.99 L795.41,416.99 L797.47,420.55 L795.41,424.11 L791.29,424.11Z M789.23,427.68 L791.29,424.11 L795.41,424.11 L797.47,427.68 L795.41,431.24 L791.29,431.24Z M795.42,345.75 L797.48,342.19 L801.6,342.19 L803.66,345.75 L801.6,349.31 L797.48,349.31Z M795.42,352.88 L797.48,349.31 L801.6,349.31 L803.66,352.88 L801.6,356.44 L797.48,356.44Z M795.42,360 L797.48,356.44 L801.6,356.44 L803.66,360 L801.6,363.56 L797.48,363.56Z M795.42,367.12 L797.48,363.56 L801.6,363.56 L803.66,367.12 L801.6,370.69 L797.48,370.69Z M795.42,374.25 L797.48,370.69 L801.6,370.69 L803.66,374.25 L801.6,377.81 L797.48,377.81Z M795.42,381.38 L797.48,377.81 L801.6,377.81 L803.66,381.38 L801.6,384.94 L797.48,384.94Z M795.42,388.5 L797.48,384.94 L801.6,384.94 L803.66,388.5 L801.6,392.06 L797.48,392.06Z M795.42,395.62 L797.48,392.06 L801.6,392.06 L803.66,395.62 L801.6,399.19 L797.48,399.19Z M795.42,402.75 L797.48,399.19 L801.6,399.19 L803.66,402.75 L801.6,406.31 L797.48,406.31Z M795.42,409.88 L797.48,406.31 L801.6,406.31 L803.66,409.88 L801.6,413.44 L797.48,413.44Z M795.42,417 L797.48,413.44 L801.6,413.44 L803.66,417 L801.6,420.56 L797.48,420.56Z M795.42,424.12 L797.48,420.56 L801.6,420.56 L803.66,424.12 L801.6,427.69 L797.48,427.69Z M801.61,349.3 L803.67,345.74 L807.79,345.74 L809.85,349.3 L807.79,352.86 L803.67,352.86Z M801.61,356.43 L803.67,352.86 L807.79,352.86 L809.85,356.43 L807.79,359.99 L803.67,359.99Z M801.61,363.55 L803.67,359.99 L807.79,359.99 L809.85,363.55 L807.79,367.11 L803.67,367.11Z M801.61,370.68 L803.67,367.11 L807.79,367.11 L809.85,370.68 L807.79,374.24 L803.67,374.24Z M801.61,377.8 L803.67,374.24 L807.79,374.24 L809.85,377.8 L807.79,381.36 L803.67,381.36Z M801.61,384.93 L803.67,381.36 L807.79,381.36 L809.85,384.93 L807.79,388.49 L803.67,388.49Z M801.61,392.05 L803.67,388.49 L807.79,388.49 L809.85,392.05 L807.79,395.61 L803.67,395.61Z M801.61,399.18 L803.67,395.61 L807.79,395.61 L809.85,399.18 L807.79,402.74 L803.67,402.74Z M801.61,406.3 L803.67,402.74 L807.79,402.74 L809.85,406.3 L807.79,409.86 L803.67,409.86Z M801.61,413.43 L803.67,409.86 L807.79,409.86 L809.85,413.43 L807.79,416.99 L803.67,416.99Z M801.61,420.55 L803.67,416.99 L807.79,416.99 L809.85,420.55 L807.79,424.11 L803.67,424.11Z M801.61,427.68 L803.67,424.11 L807.79,424.11 L809.85,427.68 L807.79,431.24 L803.67,431.24Z M807.8,345.75 L809.86,342.19 L813.98,342.19 L816.04,345.75 L813.98,349.31 L809.86,349.31Z M807.8,352.88 L809.86,349.31 L813.98,349.31 L816.04,352.88 L813.98,356.44 L809.86,356.44Z M807.8,360 L809.86,356.44 L813.98,356.44 L816.04,360 L813.98,363.56 L809.86,363.56Z M807.8,367.12 L809.86,363.56 L813.98,363.56 L816.04,367.12 L813.98,370.69 L809.86,370.69Z M807.8,374.25 L809.86,370.69 L813.98,370.69 L816.04,374.25 L813.98,377.81 L809.86,377.81Z M807.8,381.38 L809.86,377.81 L813.98,377.81 L816.04,381.38 L813.98,384.94 L809.86,384.94Z M807.8,388.5 L809.86,384.94 L813.98,384.94 L816.04,388.5 L813.98,392.06 L809.86,392.06Z M807.8,395.62 L809.86,392.06 L813.98,392.06 L816.04,395.62 L813.98,399.19 L809.86,399.19Z M807.8,402.75 L809.86,399.19 L813.98,399.19 L816.04,402.75 L813.98,406.31 L809.86,406.31Z M807.8,409.88 L809.86,406.31 L813.98,406.31 L816.04,409.88 L813.98,413.44 L809.86,413.44Z M807.8,417 L809.86,413.44 L813.98,413.44 L816.04,417 L813.98,420.56 L809.86,420.56Z M807.8,424.12 L809.86,420.56 L813.98,420.56 L816.04,424.12 L813.98,427.69 L809.86,427.69Z M813.99,349.3 L816.05,345.74 L820.17,345.74 L822.23,349.3 L820.17,352.86 L816.05,352.86Z M813.99,356.43 L816.05,352.86 L820.17,352.86 L822.23,356.43 L820.17,359.99 L816.05,359.99Z M813.99,363.55 L816.05,359.99 L820.17,359.99 L822.23,363.55 L820.17,367.11 L816.05,367.11Z M813.99,370.68 L816.05,367.11 L820.17,367.11 L822.23,370.68 L820.17,374.24 L816.05,374.24Z M813.99,377.8 L816.05,374.24 L820.17,374.24 L822.23,377.8 L820.17,381.36 L816.05,381.36Z M813.99,384.93 L816.05,381.36 L820.17,381.36 L822.23,384.93 L820.17,388.49 L816.05,388.49Z M813.99,392.05 L816.05,388.49 L820.17,388.49 L822.23,392.05 L820.17,395.61 L816.05,395.61Z M813.99,399.18 L816.05,395.61 L820.17,395.61 L822.23,399.18 L820.17,402.74 L816.05,402.74Z M813.99,406.3 L816.05,402.74 L820.17,402.74 L822.23,406.3 L820.17,409.86 L816.05,409.86Z M813.99,413.43 L816.05,409.86 L820.17,409.86 L822.23,413.43 L820.17,416.99 L816.05,416.99Z M813.99,420.55 L816.05,416.99 L820.17,416.99 L822.23,420.55 L820.17,424.11 L816.05,424.11Z M813.99,427.68 L816.05,424.11 L820.17,424.11 L822.23,427.68 L820.17,431.24 L816.05,431.24Z M820.18,345.75 L822.24,342.19 L826.36,342.19 L828.42,345.75 L826.36,349.31 L822.24,349.31Z M820.18,352.88 L822.24,349.31 L826.36,349.31 L828.42,352.88 L826.36,356.44 L822.24,356.44Z M820.18,360 L822.24,356.44 L826.36,356.44 L828.42,360 L826.36,363.56 L822.24,363.56Z M820.18,367.12 L822.24,363.56 L826.36,363.56 L828.42,367.12 L826.36,370.69 L822.24,370.69Z M820.18,374.25 L822.24,370.69 L826.36,370.69 L828.42,374.25 L826.36,377.81 L822.24,377.81Z M820.18,381.38 L822.24,377.81 L826.36,377.81 L828.42,381.38 L826.36,384.94 L822.24,384.94Z M820.18,388.5 L822.24,384.94 L826.36,384.94 L828.42,388.5 L826.36,392.06 L822.24,392.06Z M820.18,395.62 L822.24,392.06 L826.36,392.06 L828.42,395.62 L826.36,399.19 L822.24,399.19Z M820.18,402.75 L822.24,399.19 L826.36,399.19 L828.42,402.75 L826.36,406.31 L822.24,406.31Z M820.18,409.88 L822.24,406.31 L826.36,406.31 L828.42,409.88 L826.36,413.44 L822.24,413.44Z M820.18,417 L822.24,413.44 L826.36,413.44 L828.42,417 L826.36,420.56 L822.24,420.56Z M820.18,424.12 L822.24,420.56 L826.36,420.56 L828.42,424.12 L826.36,427.69 L822.24,427.69Z M826.37,349.3 L828.43,345.74 L832.55,345.74 L834.61,349.3 L832.55,352.86 L828.43,352.86Z M826.37,356.43 L828.43,352.86 L832.55,352.86 L834.61,356.43 L832.55,359.99 L828.43,359.99Z M826.37,363.55 L828.43,359.99 L832.55,359.99 L834.61,363.55 L832.55,367.11 L828.43,367.11Z M826.37,370.68 L828.43,367.11 L832.55,367.11 L834.61,370.68 L832.55,374.24 L828.43,374.24Z M826.37,377.8 L828.43,374.24 L832.55,374.24 L834.61,377.8 L832.55,381.36 L828.43,381.36Z M826.37,384.93 L828.43,381.36 L832.55,381.36 L834.61,384.93 L832.55,388.49 L828.43,388.49Z M826.37,392.05 L828.43,388.49 L832.55,388.49 L834.61,392.05 L832.55,395.61 L828.43,395.61Z M826.37,399.18 L828.43,395.61 L832.55,395.61 L834.61,399.18 L832.55,402.74 L828.43,402.74Z M826.37,406.3 L828.43,402.74 L832.55,402.74 L834.61,406.3 L832.55,409.86 L828.43,409.86Z M826.37,413.43 L828.43,409.86 L832.55,409.86 L834.61,413.43 L832.55,416.99 L828.43,416.99Z M826.37,420.55 L828.43,416.99 L832.55,416.99 L834.61,420.55 L832.55,424.11 L828.43,424.11Z M826.37,427.68 L828.43,424.11 L832.55,424.11 L834.61,427.68 L832.55,431.24 L828.43,431.24Z M832.56,345.75 L834.62,342.19 L838.74,342.19 L840.8,345.75 L838.74,349.31 L834.62,349.31Z M832.56,352.88 L834.62,349.31 L838.74,349.31 L840.8,352.88 L838.74,356.44 L834.62,356.44Z M832.56,360 L834.62,356.44 L838.74,356.44 L840.8,360 L838.74,363.56 L834.62,363.56Z M832.56,367.12 L834.62,363.56 L838.74,363.56 L840.8,367.12 L838.74,370.69 L834.62,370.69Z M832.56,374.25 L834.62,370.69 L838.74,370.69 L840.8,374.25 L838.74,377.81 L834.62,377.81Z M832.56,381.38 L834.62,377.81 L838.74,377.81 L840.8,381.38 L838.74,384.94 L834.62,384.94Z M832.56,388.5 L834.62,384.94 L838.74,384.94 L840.8,388.5 L838.74,392.06 L834.62,392.06Z M832.56,395.62 L834.62,392.06 L838.74,392.06 L840.8,395.62 L838.74,399.19 L834.62,399.19Z M832.56,402.75 L834.62,399.19 L838.74,399.19 L840.8,402.75 L838.74,406.31 L834.62,406.31Z M832.56,409.88 L834.62,406.31 L838.74,406.31 L840.8,409.88 L838.74,413.44 L834.62,413.44Z M832.56,417 L834.62,413.44 L838.74,413.44 L840.8,417 L838.74,420.56 L834.62,420.56Z M832.56,424.12 L834.62,420.56 L838.74,420.56 L840.8,424.12 L838.74,427.69 L834.62,427.69Z M838.75,349.3 L840.81,345.74 L844.93,345.74 L846.99,349.3 L844.93,352.86 L840.81,352.86Z M838.75,356.43 L840.81,352.86 L844.93,352.86 L846.99,356.43 L844.93,359.99 L840.81,359.99Z M838.75,363.55 L840.81,359.99 L844.93,359.99 L846.99,363.55 L844.93,367.11 L840.81,367.11Z M838.75,370.68 L840.81,367.11 L844.93,367.11 L846.99,370.68 L844.93,374.24 L840.81,374.24Z M838.75,377.8 L840.81,374.24 L844.93,374.24 L846.99,377.8 L844.93,381.36 L840.81,381.36Z M838.75,384.93 L840.81,381.36 L844.93,381.36 L846.99,384.93 L844.93,388.49 L840.81,388.49Z M838.75,392.05 L840.81,388.49 L844.93,388.49 L846.99,392.05 L844.93,395.61 L840.81,395.61Z M838.75,399.18 L840.81,395.61 L844.93,395.61 L846.99,399.18 L844.93,402.74 L840.81,402.74Z M838.75,406.3 L840.81,402.74 L844.93,402.74 L846.99,406.3 L844.93,409.86 L840.81,409.86Z M838.75,413.43 L840.81,409.86 L844.93,409.86 L846.99,413.43 L844.93,416.99 L840.81,416.99Z M838.75,420.55 L840.81,416.99 L844.93,416.99 L846.99,420.55 L844.93,424.11 L840.81,424.11Z M838.75,427.68 L840.81,424.11 L844.93,424.11 L846.99,427.68 L844.93,431.24 L840.81,431.24Z M844.94,345.75 L847,342.19 L851.12,342.19 L853.18,345.75 L851.12,349.31 L847,349.31Z M844.94,352.88 L847,349.31 L851.12,349.31 L853.18,352.88 L851.12,356.44 L847,356.44Z M844.94,360 L847,356.44 L851.12,356.44 L853.18,360 L851.12,363.56 L847,363.56Z M844.94,367.12 L847,363.56 L851.12,363.56 L853.18,367.12 L851.12,370.69 L847,370.69Z M844.94,374.25 L847,370.69 L851.12,370.69 L853.18,374.25 L851.12,377.81 L847,377.81Z M844.94,381.38 L847,377.81 L851.12,377.81 L853.18,381.38 L851.12,384.94 L847,384.94Z M844.94,388.5 L847,384.94 L851.12,384.94 L853.18,388.5 L851.12,392.06 L847,392.06Z M844.94,395.62 L847,392.06 L851.12,392.06 L853.18,395.62 L851.12,399.19 L847,399.19Z M844.94,402.75 L847,399.19 L851.12,399.19 L853.18,402.75 L851.12,406.31 L847,406.31Z M844.94,409.88 L847,406.31 L851.12,406.31 L853.18,409.88 L851.12,413.44 L847,413.44Z M844.94,417 L847,413.44 L851.12,413.44 L853.18,417 L851.12,420.56 L847,420.56Z M844.94,424.12 L847,420.56 L851.12,420.56 L853.18,424.12 L851.12,427.69 L847,427.69Z M851.13,349.3 L853.19,345.74 L857.31,345.74 L859.37,349.3 L857.31,352.86 L853.19,352.86Z M851.13,356.43 L853.19,352.86 L857.31,352.86 L859.37,356.43 L857.31,359.99 L853.19,359.99Z M851.13,363.55 L853.19,359.99 L857.31,359.99 L859.37,363.55 L857.31,367.11 L853.19,367.11Z M851.13,370.68 L853.19,367.11 L857.31,367.11 L859.37,370.68 L857.31,374.24 L853.19,374.24Z M851.13,377.8 L853.19,374.24 L857.31,374.24 L859.37,377.8 L857.31,381.36 L853.19,381.36Z M851.13,384.93 L853.19,381.36 L857.31,381.36 L859.37,384.93 L857.31,388.49 L853.19,388.49Z M851.13,392.05 L853.19,388.49 L857.31,388.49 L859.37,392.05 L857.31,395.61 L853.19,395.61Z M851.13,399.18 L853.19,395.61 L857.31,395.61 L859.37,399.18 L857.31,402.74 L853.19,402.74Z M851.13,406.3 L853.19,402.74 L857.31,402.74 L859.37,406.3 L857.31,409.86 L853.19,409.86Z M851.13,413.43 L853.19,409.86 L857.31,409.86 L859.37,413.43 L857.31,416.99 L853.19,416.99Z M851.13,420.55 L853.19,416.99 L857.31,416.99 L859.37,420.55 L857.31,424.11 L853.19,424.11Z M851.13,427.68 L853.19,424.11 L857.31,424.11 L859.37,427.68 L857.31,431.24 L853.19,431.24Z M857.32,345.75 L859.38,342.19 L863.5,342.19 L865.56,345.75 L863.5,349.31 L859.38,349.31Z M857.32,352.88 L859.38,349.31 L863.5,349.31 L865.56,352.88 L863.5,356.44 L859.38,356.44Z M857.32,360 L859.38,356.44 L863.5,356.44 L865.56,360 L863.5,363.56 L859.38,363.56Z M857.32,367.12 L859.38,363.56 L863.5,363.56 L865.56,367.12 L863.5,370.69 L859.38,370.69Z M857.32,374.25 L859.38,370.69 L863.5,370.69 L865.56,374.25 L863.5,377.81 L859.38,377.81Z M857.32,381.38 L859.38,377.81 L863.5,377.81 L865.56,381.38 L863.5,384.94 L859.38,384.94Z M857.32,388.5 L859.38,384.94 L863.5,384.94 L865.56,388.5 L863.5,392.06 L859.38,392.06Z M857.32,395.62 L859.38,392.06 L863.5,392.06 L865.56,395.62 L863.5,399.19 L859.38,399.19Z M857.32,402.75 L859.38,399.19 L863.5,399.19 L865.56,402.75 L863.5,406.31 L859.38,406.31Z M857.32,409.88 L859.38,406.31 L863.5,406.31 L865.56,409.88 L863.5,413.44 L859.38,413.44Z M857.32,417 L859.38,413.44 L863.5,413.44 L865.56,417 L863.5,420.56 L859.38,420.56Z M857.32,424.12 L859.38,420.56 L863.5,420.56 L865.56,424.12 L863.5,427.69 L859.38,427.69Z" fill="#fff" stroke="#000" stroke-width="2.65" stroke-linejoin="round"/>
</g>
<rect x="784.6" y="327.7" width="79.3" height="129.3" rx="2.6" fill="none" stroke="#000" stroke-width="2.5"/>
<line x1="784.6" y1="332.8" x2="863.9" y2="332.8" stroke="#000" stroke-width="2.1"/>
<line x1="788.9" y1="458.9" x2="858.9" y2="458.9" stroke="#777" stroke-width="1.6"/>
<path d="M784.7,695.6 L784.7,463.0 Q784.7,460.6 787.1,460.6 L861.5,460.6 Q863.9,460.6 863.9,463.0 L863.9,695.6" fill="none" stroke="#000" stroke-width="2.5"/>
<line x1="791.4" y1="460.6" x2="791.4" y2="476.6" stroke="#000" stroke-width="2.3"/>
<line x1="857.3" y1="460.6" x2="857.3" y2="476.6" stroke="#000" stroke-width="2.3"/>
<line x1="784.7" y1="476.6" x2="863.9" y2="476.6" stroke="#000" stroke-width="2.4"/>
<rect x="795" y="476.6" width="58.7" height="11.6" fill="none" stroke="#000" stroke-width="2.3"/>
<rect x="805.7" y="488.2" width="37.3" height="2.7" fill="#555" stroke="#000" stroke-width="2"/>
<rect x="774.5" y="695.7" width="99.5" height="10.7" rx="1.6" fill="#fff" stroke="#000" stroke-width="2.5"/>
<rect x="783" y="706.4" width="82.2" height="4.2" fill="#fff" stroke="#000" stroke-width="2.2"/>
<rect x="792.4" y="710.6" width="63.2" height="2" fill="#8a8a8a" stroke="none" stroke-width="0"/>
<line x1="792" y1="710.6" x2="792" y2="716.5" stroke="#000" stroke-width="2"/>
<line x1="856.2" y1="710.6" x2="856.2" y2="716.5" stroke="#000" stroke-width="2"/>
<clipPath id="tc3"><rect x="791.4" y="716" width="65.1" height="50.6"/></clipPath>
<g clip-path="url(#tc3)">
<path d="M792.9,713.82 L855,712.72 M792.9,716.85 L855,715.75 M792.9,719.88 L855,718.78 M792.9,722.91 L855,721.81 M792.9,725.94 L855,724.84 M792.9,728.97 L855,727.87 M792.9,732 L855,730.9 M792.9,735.03 L855,733.93 M792.9,738.06 L855,736.96 M792.9,741.09 L855,739.99 M792.9,744.12 L855,743.02 M792.9,747.15 L855,746.05 M792.9,750.18 L855,749.08 M792.9,753.21 L855,752.11 M792.9,756.24 L855,755.14 M792.9,759.27 L855,758.17 M792.9,762.3 L855,761.2 M792.9,765.33 L855,764.23 M792.9,768.36 L855,767.26" fill="none" stroke="#000" stroke-width="1.1"/>
<path d="M792.3,713.82 L795.1,715.33 L792.3,716.85 L795.1,718.36 L792.3,719.88 L795.1,721.39 L792.3,722.91 L795.1,724.42 L792.3,725.94 L795.1,727.45 L792.3,728.97 L795.1,730.48 L792.3,732 L795.1,733.51 L792.3,735.03 L795.1,736.54 L792.3,738.06 L795.1,739.57 L792.3,741.09 L795.1,742.6 L792.3,744.12 L795.1,745.63 L792.3,747.15 L795.1,748.66 L792.3,750.18 L795.1,751.69 L792.3,753.21 L795.1,754.72 L792.3,756.24 L795.1,757.75 L792.3,759.27 L795.1,760.78 L792.3,762.3 L795.1,763.81 L792.3,765.33 L795.1,766.84 L792.3,768.36 L795.1,769.87" fill="none" stroke="#000" stroke-width="1.7"/>
<path d="M855.6,712.72 L852.8,714.24 L855.6,715.75 L852.8,717.26 L855.6,718.78 L852.8,720.29 L855.6,721.81 L852.8,723.32 L855.6,724.84 L852.8,726.35 L855.6,727.87 L852.8,729.38 L855.6,730.9 L852.8,732.41 L855.6,733.93 L852.8,735.44 L855.6,736.96 L852.8,738.47 L855.6,739.99 L852.8,741.5 L855.6,743.02 L852.8,744.53 L855.6,746.05 L852.8,747.56 L855.6,749.08 L852.8,750.59 L855.6,752.11 L852.8,753.62 L855.6,755.14 L852.8,756.65 L855.6,758.17 L852.8,759.68 L855.6,761.2 L852.8,762.71 L855.6,764.23 L852.8,765.74 L855.6,767.26 L852.8,768.77" fill="none" stroke="#000" stroke-width="1.7"/>
</g>
<line x1="791.4" y1="716" x2="856.8" y2="716" stroke="#000" stroke-width="2.2"/>
<rect x="777.2" y="768" width="93.8" height="11.9" fill="#fff" stroke="#000" stroke-width="2.2"/>
<line x1="777.2" y1="773.9" x2="871" y2="773.9" stroke="#000" stroke-width="1.4"/>
<path d="M793.3,779.9 L791.8,785.2 M853.9,779.9 L855.5,785.2" fill="none" stroke="#000" stroke-width="2.2"/>
<rect x="770.7" y="785.3" width="106.3" height="7.2" fill="#fff" stroke="#000" stroke-width="2.3"/>
<rect x="782.2" y="792.5" width="84" height="12.9" fill="#fff" stroke="#000" stroke-width="2.4"/>
<line x1="802.8" y1="792.5" x2="802.8" y2="805.4" stroke="#000" stroke-width="2.4"/>
<line x1="844.7" y1="792.5" x2="844.7" y2="805.4" stroke="#000" stroke-width="2.4"/>
<clipPath id="tc4"><rect x="790.9" y="806" width="65.8" height="26.4"/></clipPath>
<g clip-path="url(#tc4)">
<path d="M792.4,804.72 L855.2,803.62 M792.4,807.75 L855.2,806.65 M792.4,810.78 L855.2,809.68 M792.4,813.81 L855.2,812.71 M792.4,816.84 L855.2,815.74 M792.4,819.87 L855.2,818.77 M792.4,822.9 L855.2,821.8 M792.4,825.93 L855.2,824.83 M792.4,828.96 L855.2,827.86 M792.4,831.99 L855.2,830.89 M792.4,835.02 L855.2,833.92" fill="none" stroke="#000" stroke-width="1.1"/>
<path d="M791.8,804.72 L794.6,806.24 L791.8,807.75 L794.6,809.26 L791.8,810.78 L794.6,812.29 L791.8,813.81 L794.6,815.32 L791.8,816.84 L794.6,818.35 L791.8,819.87 L794.6,821.38 L791.8,822.9 L794.6,824.41 L791.8,825.93 L794.6,827.44 L791.8,828.96 L794.6,830.47 L791.8,831.99 L794.6,833.5 L791.8,835.02 L794.6,836.53" fill="none" stroke="#000" stroke-width="1.7"/>
<path d="M855.8,803.62 L853,805.14 L855.8,806.65 L853,808.17 L855.8,809.68 L853,811.2 L855.8,812.71 L853,814.23 L855.8,815.74 L853,817.25 L855.8,818.77 L853,820.28 L855.8,821.8 L853,823.31 L855.8,824.83 L853,826.34 L855.8,827.86 L853,829.37 L855.8,830.89 L853,832.4 L855.8,833.92 L853,835.43" fill="none" stroke="#000" stroke-width="1.7"/>
</g>
<line x1="791.6" y1="832.3" x2="856" y2="832.3" stroke="#000" stroke-width="2"/>
<clipPath id="bc3"><rect x="818" y="793" width="12.5" height="37.7"/></clipPath>
<rect x="818" y="793" width="12.5" height="37.7" fill="#1c1c1c"/>
<g clip-path="url(#bc3)">
<path d="M820,791 L828.5,793.2 M820,794 L828.5,796.2 M820,797 L828.5,799.2 M820,800 L828.5,802.2 M820,803 L828.5,805.2 M820,806 L828.5,808.2 M820,809 L828.5,811.2 M820,812 L828.5,814.2 M820,815 L828.5,817.2 M820,818 L828.5,820.2 M820,821 L828.5,823.2 M820,824 L828.5,826.2 M820,827 L828.5,829.2 M820,830 L828.5,832.2 M820,833 L828.5,835.2" fill="none" stroke="#a0a0a0" stroke-width="1"/>
</g>
<line x1="818.9" y1="793" x2="818.9" y2="830.7" stroke="#000" stroke-width="1.8"/>
<line x1="829.6" y1="793" x2="829.6" y2="830.7" stroke="#000" stroke-width="1.8"/>
<path d="M816.0,831.2 L833.0,831.2 L833.0,835.3 L830.3,839.3 L818.3,839.3 L816.0,835.3 Z" fill="#fff" stroke="#000" stroke-width="2.2" stroke-linejoin="round"/>
<line x1="817" y1="835.8" x2="832" y2="835.8" stroke="#000" stroke-width="1.3"/>
<line x1="793.9" y1="833" x2="793.9" y2="1202" stroke="#000" stroke-width="2.5"/>
<line x1="815.4" y1="833" x2="815.4" y2="1202" stroke="#000" stroke-width="2.5"/>
<line x1="832.5" y1="833" x2="832.5" y2="1110" stroke="#000" stroke-width="2.5"/>
<line x1="854" y1="833" x2="854" y2="1110" stroke="#000" stroke-width="2.5"/>
<line x1="793.9" y1="1181.8" x2="815.4" y2="1181.8" stroke="#000" stroke-width="2.2"/>
<line x1="832.5" y1="1090.3" x2="854" y2="1090.3" stroke="#000" stroke-width="2.2"/>
<path d="M793,1201.8 L816.8,1201.8 Q818,1201.8 818,1203.6 L818,1212.01 L817.2,1213.61 L792.6,1213.61 L791.8,1212.01 L791.8,1203.6 Q791.8,1201.8 793,1201.8Z" fill="#fff" stroke="#000" stroke-width="2.4" stroke-linejoin="round"/>
<line x1="791.8" y1="1202.5" x2="818" y2="1202.5" stroke="#000" stroke-width="3.6"/>
<line x1="791.8" y1="1210.65" x2="818" y2="1210.65" stroke="#000" stroke-width="1.6"/>
<line x1="791.8" y1="1213.01" x2="818" y2="1213.01" stroke="#000" stroke-width="1.8"/>
<line x1="792.6" y1="1213.01" x2="792.6" y2="1229.36" stroke="#000" stroke-width="2.5"/>
<line x1="817.2" y1="1213.01" x2="817.2" y2="1229.36" stroke="#000" stroke-width="2.5"/>
<rect x="791.8" y="1229.36" width="26.2" height="5.32" rx="2.6" fill="#fff" stroke="#000" stroke-width="2.3"/>
<path d="M783.8,1237.34 L826,1237.34 L830.2,1241.54 L830.2,1256.39 L826,1260.59 L783.8,1260.59 L779.6,1256.39 L779.6,1241.54Z" fill="#000" stroke="#000" stroke-width="2.4" stroke-linejoin="round"/>
<rect x="780.7" y="1238.44" width="10.5" height="21.05" rx="3.4" fill="#fff" stroke="none" stroke-width="0"/>
<rect x="793.7" y="1238.44" width="22.4" height="21.05" rx="5.5" fill="#fff" stroke="none" stroke-width="0"/>
<rect x="818.6" y="1238.44" width="10.5" height="21.05" rx="3.4" fill="#fff" stroke="none" stroke-width="0"/>
<line x1="791.45" y1="1237.14" x2="818.35" y2="1237.14" stroke="#000" stroke-width="2.8"/>
<path d="M831.6,1109.8 L855.4,1109.8 Q856.6,1109.8 856.6,1111.6 L856.6,1120.01 L855.8,1121.61 L831.2,1121.61 L830.4,1120.01 L830.4,1111.6 Q830.4,1109.8 831.6,1109.8Z" fill="#fff" stroke="#000" stroke-width="2.4" stroke-linejoin="round"/>
<line x1="830.4" y1="1110.5" x2="856.6" y2="1110.5" stroke="#000" stroke-width="3.6"/>
<line x1="830.4" y1="1118.65" x2="856.6" y2="1118.65" stroke="#000" stroke-width="1.6"/>
<line x1="830.4" y1="1121.01" x2="856.6" y2="1121.01" stroke="#000" stroke-width="1.8"/>
<line x1="831.2" y1="1121.01" x2="831.2" y2="1137.36" stroke="#000" stroke-width="2.5"/>
<line x1="855.8" y1="1121.01" x2="855.8" y2="1137.36" stroke="#000" stroke-width="2.5"/>
<rect x="830.4" y="1137.36" width="26.2" height="5.32" rx="2.6" fill="#fff" stroke="#000" stroke-width="2.3"/>
<path d="M822.7,1145.34 L864.3,1145.34 L868.5,1149.54 L868.5,1164.39 L864.3,1168.59 L822.7,1168.59 L818.5,1164.39 L818.5,1149.54Z" fill="#000" stroke="#000" stroke-width="2.4" stroke-linejoin="round"/>
<rect x="819.6" y="1146.44" width="10.2" height="21.05" rx="3.4" fill="#fff" stroke="none" stroke-width="0"/>
<rect x="832.3" y="1146.44" width="22.4" height="21.05" rx="5.5" fill="#fff" stroke="none" stroke-width="0"/>
<rect x="857.2" y="1146.44" width="10.2" height="21.05" rx="3.4" fill="#fff" stroke="none" stroke-width="0"/>
<line x1="830.05" y1="1145.14" x2="856.95" y2="1145.14" stroke="#000" stroke-width="2.8"/>
<line x1="824.3" y1="296" x2="824.3" y2="416.9" stroke="#000" stroke-width="1.25"/>
<line x1="824.3" y1="434.8" x2="824.3" y2="473.6" stroke="#000" stroke-width="1.25"/>
<line x1="824.3" y1="492" x2="824.3" y2="645.6" stroke="#000" stroke-width="1.25"/>
<line x1="824.3" y1="663.4" x2="824.3" y2="703.3" stroke="#000" stroke-width="1.25"/>
<line x1="824.3" y1="721.5" x2="824.3" y2="841.8" stroke="#000" stroke-width="1.25"/>
<line x1="716.9" y1="327.6" x2="763.8" y2="327.6" stroke="#000" stroke-width="1.25"/>
<line x1="718.9" y1="705.8" x2="760.8" y2="705.8" stroke="#000" stroke-width="1.25"/>
<line x1="711.6" y1="1261.4" x2="767.9" y2="1261.4" stroke="#000" stroke-width="1.25"/>
<line x1="748.6" y1="327.6" x2="748.6" y2="1261.4" stroke="#000" stroke-width="1.25"/>
<line x1="738.6" y1="317.6" x2="758.6" y2="337.6" stroke="#000" stroke-width="1.25"/>
<line x1="738.6" y1="695.8" x2="758.6" y2="715.8" stroke="#000" stroke-width="1.25"/>
<line x1="738.6" y1="1251.4" x2="758.6" y2="1271.4" stroke="#000" stroke-width="1.25"/>
<line x1="875.5" y1="327.6" x2="922.5" y2="327.6" stroke="#000" stroke-width="1.25"/>
<line x1="877.9" y1="457.2" x2="919.4" y2="457.2" stroke="#000" stroke-width="1.25"/>
<line x1="907" y1="327.6" x2="907" y2="457.2" stroke="#000" stroke-width="1.25"/>
<line x1="897" y1="317.6" x2="917" y2="337.6" stroke="#000" stroke-width="1.25"/>
<line x1="897" y1="447.2" x2="917" y2="467.2" stroke="#000" stroke-width="1.25"/>
<line x1="902.7" y1="705.8" x2="942.3" y2="705.8" stroke="#000" stroke-width="1.25"/>
<line x1="902.7" y1="767.6" x2="942.3" y2="767.6" stroke="#000" stroke-width="1.25"/>
<line x1="927" y1="705.8" x2="927" y2="910.2" stroke="#000" stroke-width="1.25"/>
<line x1="917" y1="695.8" x2="937" y2="715.8" stroke="#000" stroke-width="1.25"/>
<line x1="917" y1="757.6" x2="937" y2="777.6" stroke="#000" stroke-width="1.25"/>
<line x1="955.9" y1="705.8" x2="997.8" y2="705.8" stroke="#000" stroke-width="1.25"/>
<line x1="948.4" y1="1169.5" x2="1004.7" y2="1169.5" stroke="#000" stroke-width="1.25"/>
<line x1="984.3" y1="705.8" x2="984.3" y2="1169.5" stroke="#000" stroke-width="1.25"/>
<line x1="974.3" y1="695.8" x2="994.3" y2="715.8" stroke="#000" stroke-width="1.25"/>
<line x1="974.3" y1="1159.5" x2="994.3" y2="1179.5" stroke="#000" stroke-width="1.25"/>
<line x1="782.7" y1="1270.8" x2="782.7" y2="1319.7" stroke="#000" stroke-width="1.25"/>
<line x1="827.1" y1="1270.8" x2="827.1" y2="1319.7" stroke="#000" stroke-width="1.25"/>
<line x1="782.7" y1="1300" x2="916.7" y2="1300" stroke="#000" stroke-width="1.25"/>
<line x1="772.7" y1="1310" x2="792.7" y2="1290" stroke="#000" stroke-width="1.25"/>
<line x1="817.1" y1="1310" x2="837.1" y2="1290" stroke="#000" stroke-width="1.25"/>
</g>
<g id="labels">
<text transform="matrix(1.0000,0,0,1.0300,0.00,138.80)" x="164.9 193.1 227.5 252.6 276.95 302.75" font-size="45" style="font-family:'Liberation Sans', Arial, sans-serif;fill:#000;stroke:#fff;stroke-width:0.55px">SC9011</text>
<text transform="matrix(1.0646,0,0,0.9867,297.57,271.41)" font-size="36" style="font-family:'Liberation Sans', Arial, sans-serif;fill:#000;stroke:#fff;stroke-width:0.55px">Ø40</text>
<text transform="matrix(1.0278,0,0,1.0694,316.62,574.47)" font-size="36" style="font-family:'Liberation Sans', Arial, sans-serif;fill:#000;stroke:#fff;stroke-width:0.55px">117</text>
<text transform="matrix(0.9792,0,0,1.0480,303.66,660.60)" font-size="36" style="font-family:'Liberation Sans', Arial, sans-serif;fill:#000;stroke:#fff;stroke-width:0.55px">165</text>
<text transform="matrix(1.0786,0,0,0.9867,55.94,734.11)" font-size="36" style="font-family:'Liberation Sans', Arial, sans-serif;fill:#000;stroke:#fff;stroke-width:0.55px">Ø50</text>
<text transform="matrix(1.1200,0,0,1.0100,0.00,1288.00)" x="753.36 771.34 789.32 808.43 821.39" font-size="36" style="font-family:'Liberation Sans', Arial, sans-serif;fill:#000;stroke:#fff;stroke-width:0.55px">G 1/2</text>
<text transform="matrix(0,-1.0215,1.0586,0,160.10,674.64)" font-size="36" style="font-family:'Liberation Sans', Arial, sans-serif;fill:#000;stroke:#fff;stroke-width:0.55px">5</text>
<text transform="matrix(0,-0.9727,1.0600,0,555.20,624.32)" font-size="36" style="font-family:'Liberation Sans', Arial, sans-serif;fill:#000;stroke:#fff;stroke-width:0.55px">109</text>
<text transform="matrix(0,-0.9874,1.0800,0,742.00,545.46)" font-size="36" style="font-family:'Liberation Sans', Arial, sans-serif;fill:#000;stroke:#fff;stroke-width:0.55px">190</text>
<text transform="matrix(0,-1.0014,1.0400,0,900.80,416.90)" font-size="36" style="font-family:'Liberation Sans', Arial, sans-serif;fill:#000;stroke:#fff;stroke-width:0.55px">65</text>
<text transform="matrix(0,-1.0478,1.1000,0,739.00,983.40)" font-size="36" style="font-family:'Liberation Sans', Arial, sans-serif;fill:#000;stroke:#fff;stroke-width:0.55px">600</text>
<text transform="matrix(0,-1.2000,1.0400,0,785.50,1036.50)" x="-2.75 7.67 27" font-size="36" style="font-family:'Liberation Sans', Arial, sans-serif;fill:#000;stroke:#fff;stroke-width:0.55px">red</text>
<text transform="matrix(0,-1.2000,1.0200,0,889.40,1045.30)" x="-2.75 16.83 23.25 42.17" font-size="36" style="font-family:'Liberation Sans', Arial, sans-serif;fill:#000;stroke:#fff;stroke-width:0.55px">blue</text>
<text transform="matrix(0,-1.0079,1.0480,0,976.00,980.16)" font-size="36" style="font-family:'Liberation Sans', Arial, sans-serif;fill:#000;stroke:#fff;stroke-width:0.55px">350</text>
<text transform="matrix(0,-1.0700,1.0760,0,922.60,904.90)" x="-2.75 28.16 51.99 64.84 77.69 96.13" font-size="36" style="font-family:'Liberation Sans', Arial, sans-serif;fill:#000;stroke:#fff;stroke-width:0.55px">max 35</text>
</g>
</svg>
</body>
</html>
